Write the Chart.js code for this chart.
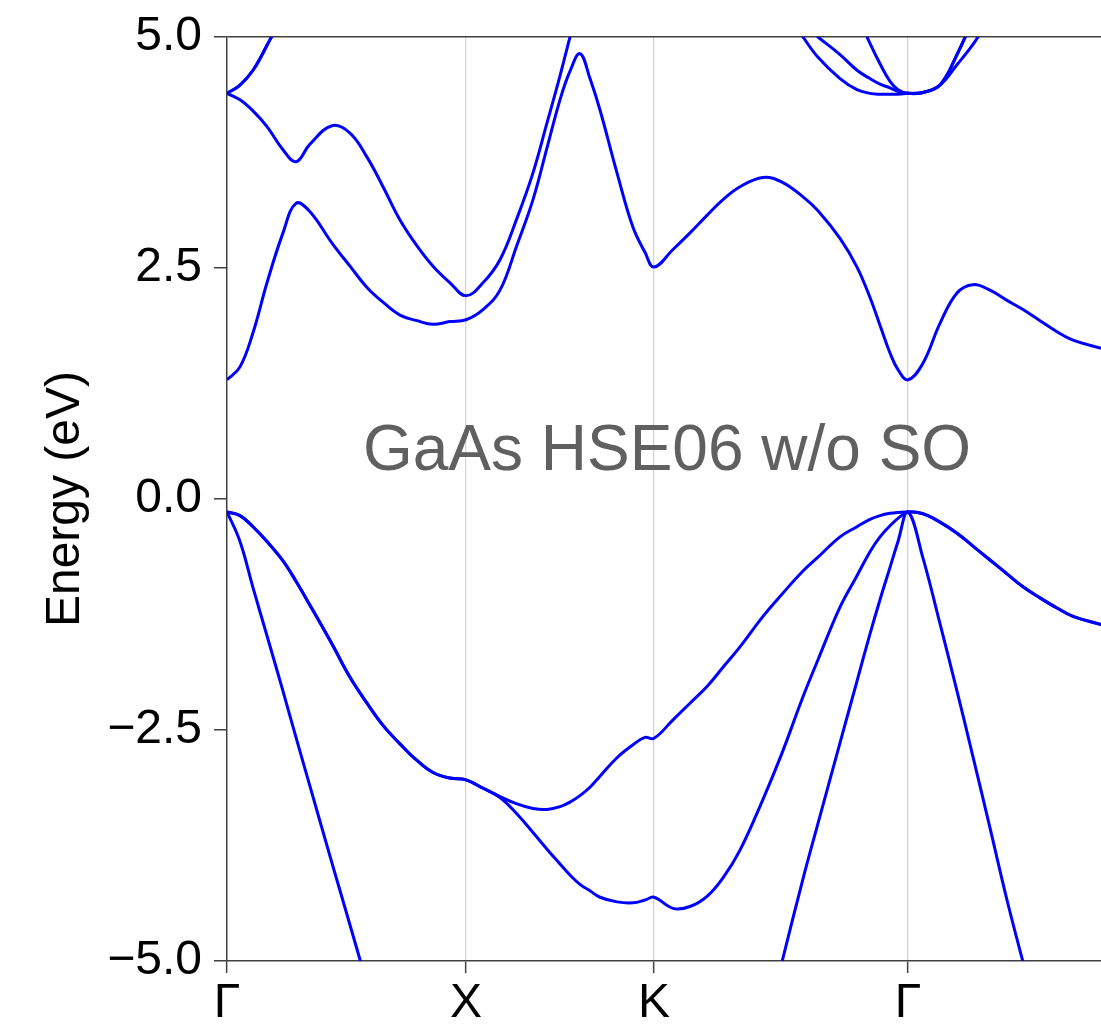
<!DOCTYPE html>
<html lang="en">
<head>
<meta charset="UTF-8">
<title>GaAs HSE06 band structure</title>
<style>
  html, body { margin: 0; padding: 0; background: #fff; }
  #wrap { width: 1101px; height: 1024px; }
</style>
</head>
<body>
<div id="wrap"><canvas id="bands"></canvas></div>
<script src="https://cdn.jsdelivr.net/npm/chart.js@4.4.1/dist/chart.umd.min.js"></script>
<script>
// k-path distance of each sampled point, path Γ - X - K - Γ - L (L cut off)
const kpts = [
  0, 0.13, 0.26, 0.40, 0.56, 0.69, 0.83, 1.05, 1.23, 1.40, 1.56, 1.73, 1.90, 2.06, 2.23, 2.39,
  2.56, 2.73, 2.90, 3.06, 3.20, 3.33, 3.43, 3.53, 3.63, 3.73, 3.90, 4.06, 4.18, 4.27,
  4.46, 4.63, 4.80, 4.96, 5.13, 5.36, 5.55, 5.76, 5.91, 6.13, 6.30, 6.43, 6.53, 6.63, 6.71, 6.81,
  6.96, 7.13, 7.30, 7.46, 7.63, 7.80, 7.96, 8.13, 8.30, 8.46, 8.74
]
const kMax = 8.74

// high symmetry points
const kTicks = [0, 2.39, 4.27, 6.81]
const kLabels = ['Γ', 'X', 'K', 'Γ']

const yTicks = [-5, -2.5, 0, 2.5, 5]

// band energies (eV), one value per k-point
const vb1 = [
  -0.14, -0.46, -0.96, -1.48, -2.08, -2.58, -3.11, -3.94, -4.61, -5.25, -5.85, -6.40, -6.85, -7.20, -7.45, -7.55,
  -7.55, -7.50, -7.45, -7.40, -7.35, -7.35, -7.35, -7.40, -7.40, -7.45, -7.50, -7.55, -7.60, -7.60,
  -7.55, -7.45, -7.25, -6.95, -6.55, -5.85, -5.01, -4.11, -3.51, -2.64, -1.97, -1.46, -1.09, -0.74, -0.46, -0.14,
  -0.64, -1.35, -2.08, -2.79, -3.56, -4.34, -5.01, -5.70, -6.30, -6.80, -7.40
]
const vb2 = [
  -0.14, -0.18, -0.30, -0.46, -0.67, -0.89, -1.15, -1.57, -1.93, -2.21, -2.45, -2.65, -2.83, -2.96, -3.02, -3.04,
  -3.13, -3.23, -3.41, -3.61, -3.79, -3.95, -4.07, -4.17, -4.24, -4.31, -4.36, -4.37, -4.34, -4.31,
  -4.43, -4.41, -4.30, -4.10, -3.80, -3.25, -2.75, -2.14, -1.74, -1.17, -0.83, -0.57, -0.41, -0.29, -0.21, -0.14,
  -0.16, -0.25, -0.37, -0.51, -0.66, -0.81, -0.95, -1.07, -1.18, -1.27, -1.36
]
const vb3 = [
  -0.14, -0.18, -0.30, -0.46, -0.67, -0.89, -1.15, -1.57, -1.93, -2.21, -2.45, -2.65, -2.83, -2.96, -3.02, -3.04,
  -3.13, -3.22, -3.30, -3.35, -3.36, -3.33, -3.28, -3.21, -3.12, -3.00, -2.80, -2.66, -2.58, -2.59,
  -2.39, -2.21, -2.03, -1.82, -1.60, -1.27, -1.03, -0.78, -0.63, -0.41, -0.30, -0.22, -0.18, -0.155, -0.145, -0.14,
  -0.16, -0.25, -0.37, -0.51, -0.66, -0.81, -0.95, -1.07, -1.18, -1.27, -1.36
]
const cb1 = [
  1.29, 1.43, 1.80, 2.34, 2.88, 3.20, 3.11, 2.77, 2.52, 2.29, 2.13, 1.99, 1.93, 1.89, 1.92, 1.94,
  2.05, 2.26, 2.75, 3.24, 3.80, 4.32, 4.63, 4.82, 4.55, 4.21, 3.53, 2.94, 2.67, 2.51,
  2.70, 2.88, 3.07, 3.24, 3.38, 3.48, 3.43, 3.27, 3.12, 2.82, 2.51, 2.18, 1.88, 1.58, 1.40, 1.29,
  1.47, 1.90, 2.23, 2.32, 2.26, 2.15, 2.05, 1.93, 1.81, 1.72, 1.63
]
const cb2 = [
  4.39, 4.32, 4.20, 4.03, 3.78, 3.65, 3.84, 4.04, 3.96, 3.70, 3.38, 3.02, 2.74, 2.52, 2.34, 2.20,
  2.34, 2.59, 3.04, 3.53, 4.07, 4.58, 5.00, 5.40, 5.75, 6.05, 6.45, 6.70, 6.80, 6.85,
  6.80, 6.70, 6.50, 6.25, 5.95, 5.63, 5.33, 5.00, 4.78, 4.55, 4.43, 4.39, 4.38, 4.38, 4.38, 4.39,
  4.40, 4.48, 4.70, 4.92, 5.20, 5.45, 5.70, 5.90, 6.05, 6.20, 6.40
]
const cb3 = [
  4.39, 4.48, 4.64, 4.91, 5.25, 5.60, 5.90, 6.30, 6.60, 6.85, 7.05, 7.20, 7.30, 7.35, 7.40, 7.40,
  7.40, 7.35, 7.30, 7.25, 7.20, 7.15, 7.10, 7.10, 7.05, 7.05, 7.00, 7.00, 6.95, 6.90,
  6.70, 6.50, 6.30, 6.10, 5.90, 5.60, 5.35, 5.14, 5.00, 4.81, 4.64, 4.55, 4.49, 4.45, 4.41, 4.39,
  4.40, 4.48, 4.81, 5.20, 5.70, 6.10, 6.40, 6.70, 6.90, 7.05, 7.20
]
const cb4 = [
  4.39, 4.48, 4.64, 4.91, 5.25, 5.60, 5.90, 6.30, 6.60, 6.85, 7.05, 7.20, 7.30, 7.35, 7.40, 7.40,
  7.50, 7.60, 7.70, 7.80, 7.85, 7.90, 7.90, 7.95, 7.95, 8.00, 8.00, 8.00, 8.00, 8.00,
  8.00, 7.95, 7.90, 7.80, 7.60, 7.30, 6.95, 6.50, 6.15, 5.65, 5.25, 4.93, 4.71, 4.52, 4.43, 4.39,
  4.40, 4.48, 4.81, 5.20, 5.70, 6.10, 6.40, 6.70, 6.90, 7.05, 7.20
]

const bands = [vb1, vb2, vb3, cb1, cb2, cb3, cb4]

const noteText = 'GaAs HSE06 w/o SO'
const noteAt = [4.40, 0.31]

const fontFamily = '"Liberation Sans", Arial, Helvetica, sans-serif'
const axisColor = '#404040'

const fmtEnergy = (v) => (v < 0 ? '\u2212' : '') + Math.abs(v).toFixed(1)

const datasets = bands.map(band => ({
  data: band.map((e, i) => ({ x: kpts[i], y: e })),
  borderColor: '#0000ff',
  borderWidth: 3,
  pointRadius: 0,
  fill: false,
  tension: 0.4,
  clip: 0
}))

const noteLabel = {
  id: 'noteLabel',
  afterDatasetsDraw(chart) {
    const { ctx, scales } = chart
    ctx.save()
    ctx.font = '64px ' + fontFamily
    ctx.fillStyle = '#606060'
    ctx.textAlign = 'center'
    ctx.textBaseline = 'alphabetic'
    ctx.fillText(noteText, scales.x.getPixelForValue(noteAt[0]), scales.y.getPixelForValue(noteAt[1]))
    ctx.restore()
  }
}

const bandChart = new Chart(document.getElementById('bands'), {
  type: 'line',
  data: { datasets },
  plugins: [noteLabel],
  options: {
    responsive: true,
    maintainAspectRatio: false,
    animation: false,
    layout: { padding: { top: 37, right: 0, bottom: 0, left: 0 } },
    plugins: {
      legend: { display: false },
      tooltip: { enabled: false }
    },
    scales: {
      x: {
        type: 'linear',
        min: 0,
        max: kMax,
        afterBuildTicks: scale => { scale.ticks = kTicks.map(v => ({ value: v })) },
        afterFit: scale => {
          scale.height = 63
          scale.paddingLeft = 0
          scale.paddingRight = 0
        },
        ticks: {
          callback: (value, index) => kLabels[index],
          color: '#000',
          font: { family: fontFamily, size: 48 },
          padding: 2,
          maxRotation: 0,
          autoSkip: false
        },
        grid: {
          color: ctx => ctx.index === 0 ? 'rgba(0,0,0,0)' : '#d4d4d4',
          lineWidth: 1.3,
          tickColor: axisColor,
          tickLength: 12,
          tickWidth: 1.5
        },
        border: { display: true, color: axisColor, width: 1.5 }
      },
      y: {
        min: -5,
        max: 5,
        afterBuildTicks: scale => { scale.ticks = yTicks.map(v => ({ value: v })) },
        afterFit: scale => {
          scale.width = 227
          scale.paddingTop = 0
          scale.paddingBottom = 0
        },
        ticks: {
          callback: value => fmtEnergy(value),
          color: '#000',
          font: { family: fontFamily, size: 48 },
          padding: 12
        },
        grid: {
          color: ctx => ctx.tick && ctx.tick.value === 5 ? axisColor : 'rgba(0,0,0,0)',
          lineWidth: 1.5,
          tickColor: axisColor,
          tickLength: 13,
          tickWidth: 1.5
        },
        border: { display: true, color: axisColor, width: 1.5 },
        title: {
          display: true,
          text: 'Energy (eV)',
          color: '#000',
          font: { family: fontFamily, size: 48 },
          padding: { top: 37, bottom: 0 }
        }
      }
    }
  }
})
</script>
</body>
</html>
